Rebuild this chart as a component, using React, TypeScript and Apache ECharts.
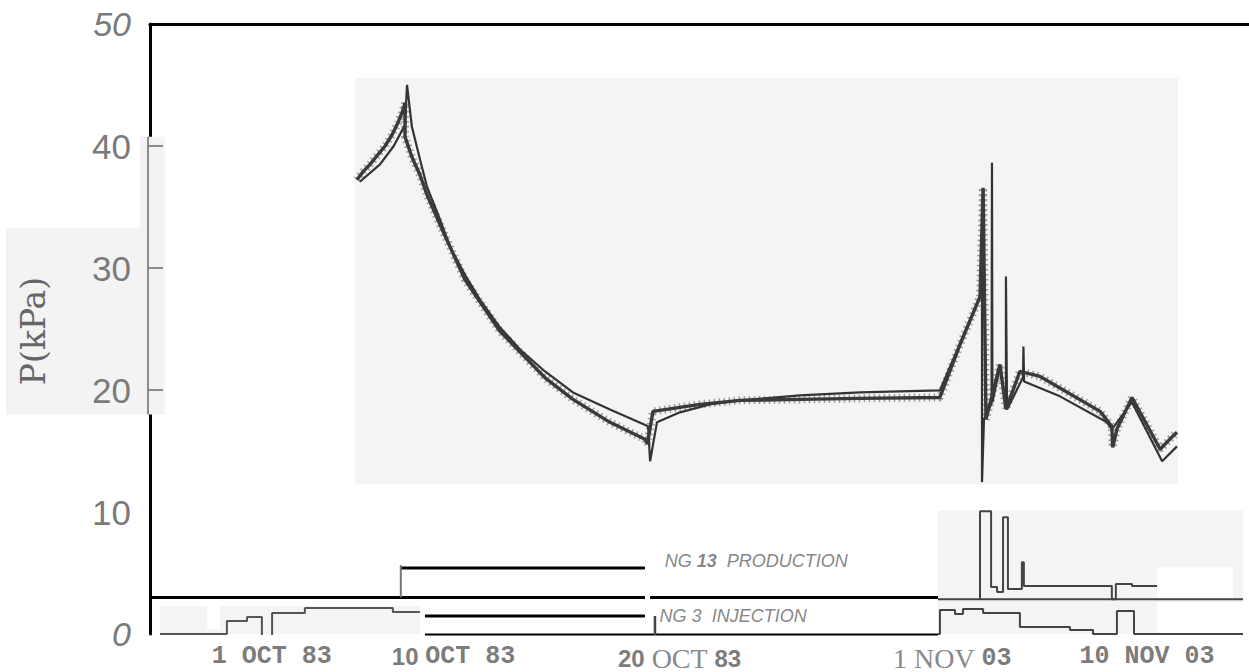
import React, { useEffect, useRef } from "react";
import * as echarts from "echarts";

// x: days since 1 Oct (as laid out on the original figure), y: pressure in kPa
const X_MIN = -5;
const X_MAX = 44.6;

const dateLabels = ["1 OCT 83", "10 OCT 83", "20 OCT 83", "1 NOV 03", "10 NOV 03"];
const dateLabelDays = [0.5, 8.7, 18.9, 31.2, 40.0];
const dateLabelRich = [
  "{m|1 OCT 83}",
  "{sb|10 }{m|OCT 83}",
  "{sb|20 }{s|OCT }{sb|83}",
  "{s|1 NOV }{m|03}",
  "{m|10 NOV 03}",
];
const yTickValues = [0, 10, 20, 30, 40, 50];

const measuredPressure: [number, number][] = [
  [4.34, 37.23], [4.62, 37.9], [4.93, 38.5], [5.29, 39.3], [5.61, 40.0], [5.92, 40.9],
  [6.19, 41.9], [6.42, 42.96], [6.51, 43.54], [6.51, 40.75], [6.82, 39.1], [7.19, 37.6],
  [7.5, 36.0], [8.09, 33.55], [9.21, 29.05], [10.8, 24.8], [12.83, 21.0], [14.09, 19.23],
  [15.76, 17.35], [17.34, 15.96], [17.45, 15.6], [17.7, 18.25], [19.82, 18.82],
  [21.63, 19.15], [24.33, 19.23], [27.04, 19.31], [30.65, 19.39], [31.56, 23.73],
  [32.46, 27.66], [32.6, 36.58], [32.73, 17.59], [33.36, 22.09], [33.63, 18.41],
  [34.26, 21.52], [35.17, 21.11], [37.88, 18.25], [38.41, 17.0], [38.45, 15.3],
  [38.64, 16.8], [39.32, 19.39], [40.59, 15.14], [41.04, 16.0], [41.35, 16.53],
];

const modelPressure: [number, number][] = [
  [4.47, 37.07], [5.38, 38.5], [6.0, 40.0], [6.51, 41.73], [6.6, 45.01], [6.82, 41.57],
  [7.19, 38.87], [7.5, 36.66], [8.09, 33.96], [8.54, 31.75], [9.21, 29.46], [9.89, 27.41],
  [10.8, 25.12], [11.7, 23.32], [12.83, 21.52], [14.09, 19.8], [15.76, 18.41],
  [17.48, 17.02], [17.57, 14.16], [17.88, 17.35], [18.92, 18.17], [20.27, 18.82],
  [21.63, 19.15], [24.33, 19.56], [27.04, 19.8], [30.65, 19.97], [32.46, 27.66],
  [32.55, 32.32], [32.55, 12.44], [32.64, 17.6], [32.98, 18.9], [33.0, 38.63],
  [33.02, 19.0], [33.36, 21.93], [33.63, 18.82], [33.63, 29.3], [33.68, 18.41],
  [34.4, 21.03], [34.42, 23.57], [34.45, 20.7], [36.07, 19.48], [38.19, 17.35],
  [38.41, 16.78], [39.32, 19.0], [40.68, 14.16], [41.35, 15.38],
];

// NG 13 production trace (offset onto the pressure axis, baseline 2.85)
const productionLate: [number, number][] = [
  [32.46, 2.85], [32.46, 10.07], [32.96, 10.07], [32.96, 3.85], [33.23, 3.85], [33.23, 3.44],
  [33.5, 3.44], [33.5, 9.57], [33.72, 9.57], [33.72, 3.68], [34.35, 3.68], [34.35, 5.89],
  [34.44, 5.89], [34.44, 3.93], [38.41, 3.93], [38.41, 2.85], [38.59, 2.85], [38.59, 4.09],
  [39.32, 4.09], [39.32, 3.93], [40.45, 3.93],
];
const productionBaseLate: [number, number][] = [[30.56, 2.85], [44.33, 2.85]];

// NG 3 injection traces (baseline 0)
const injectionEarly: [number, number][] = [
  [-4.55, 0], [-1.53, 0], [-1.53, 1.06], [-0.62, 1.06], [-0.62, 1.39], [0.05, 1.39], [0.05, -0.08],
];
const injectionEarly2: [number, number][] = [
  [0.51, -0.08], [0.51, 1.72], [1.99, 1.72], [1.99, 2.13], [5.96, 2.13], [5.96, 1.8], [7.18, 1.8],
];
const injectionLate: [number, number][] = [
  [30.56, 0], [30.65, 0], [30.65, 1.96], [31.33, 1.96], [31.33, 1.64], [31.69, 1.64],
  [31.69, 2.05], [32.6, 2.05], [32.6, 1.72], [34.26, 1.72], [34.26, 0.57], [36.52, 0.57],
  [36.52, 0.33], [37.56, 0.33], [37.56, 0], [38.64, 0], [38.64, 1.88], [39.41, 1.88],
  [39.41, 0], [44.33, 0],
];

// black reference lines of the lower panel
const productionAxis: ([number, number] | null)[] = [[-5, 3.0], [17.34, 3.0], null, [17.57, 3.0], [30.56, 3.0]];
const productionKey: [number, number][] = [[6.28, 5.4], [17.34, 5.4]];
const productionKeyTick: [number, number][] = [[6.32, 3.0], [6.32, 5.65]];
const injectionKey: [number, number][] = [[7.41, 1.47], [17.34, 1.47]];
const injectionAxis: [number, number][] = [[7.41, -0.08], [30.56, -0.08]];
const injectionKeyTick: [number, number][] = [[17.79, -0.08], [17.79, 1.47]];

const annotations = [
  { text: "{n|NG }{b|13}{n|  PRODUCTION}", at: [18.23, 5.97] },
  { text: "{n|NG 3  INJECTION}", at: [18.0, 1.47] },
];

const withBreaks = (arr: ([number, number] | null)[]) => arr.map((p) => (p === null ? [null, null] : p));

function lineSeries(data: any[], color: string, width: number, z = 3, type: any = "solid", opacity = 1) {
  return {
    type: "line",
    data,
    showSymbol: false,
    symbol: "none",
    connectNulls: false,
    silent: true,
    z,
    lineStyle: { color, width, type, opacity },
  };
}

export default function App() {
  const ref = useRef<HTMLDivElement>(null);
  useEffect(() => {
    if (!ref.current) return;
    const chart = echarts.init(ref.current, undefined, { renderer: "svg" });
    const grey = "#f4f4f4";
    const option: any = {
      animation: false,
      backgroundColor: "#ffffff",
      grid: { left: 150, right: 0, top: 24, bottom: 37, containLabel: false },
      xAxis: [
        {
          type: "value",
          min: X_MIN,
          max: X_MAX,
          position: "bottom",
          axisLine: { show: false },
          axisTick: { show: false },
          splitLine: { show: false },
          axisLabel: {
            customValues: dateLabelDays,
            margin: 10,
            formatter: (v: number) => {
              const i = dateLabelDays.findIndex((d) => Math.abs(d - v) < 1e-6);
              return i >= 0 ? dateLabelRich[i] : "";
            },
            rich: {
              m: { fontFamily: "Liberation Mono", fontWeight: "bold", fontSize: 25, color: "#7c7c7c" },
              sb: { fontFamily: "Liberation Sans", fontWeight: "bold", fontSize: 24, color: "#7c7c7c" },
              s: { fontFamily: "Liberation Serif", fontSize: 28, color: "#8a8a8a" },
            },
          },
        },
        {
          type: "value",
          min: X_MIN,
          max: X_MAX,
          position: "top",
          axisLine: { show: true, onZero: false, lineStyle: { color: "#000", width: 3 } },
          axisTick: { show: false },
          axisLabel: { show: false },
          splitLine: { show: false },
        },
      ],
      yAxis: {
        type: "value",
        min: 0,
        max: 50,
        interval: 10,
        axisLine: { show: true, onZero: false, lineStyle: { color: "#000", width: 3 } },
        axisTick: { show: false },
        splitLine: { show: false },
        axisLabel: {
          margin: 19,
          formatter: (v: number) => (v === 0 || v === 50 ? `{i|${v}}` : `{n|${v}}`),
          rich: {
            i: { fontFamily: "Liberation Sans", fontStyle: "italic", fontSize: 34, color: "#7a7a7a" },
            n: { fontFamily: "Liberation Sans", fontSize: 35, color: "#7a7a7a" },
          },
        },
      },
      series: [
        {
          type: "line",
          data: [],
          z: 1,
          silent: true,
          markArea: {
            silent: true,
            data: [
              [{ coord: [4.25, 45.58], itemStyle: { color: grey } }, { coord: [41.4, 12.27] }],
              [{ coord: [-4.55, 2.29], itemStyle: { color: grey } }, { coord: [7.18, -0.16] }],
              [{ coord: [-2.43, 2.29], itemStyle: { color: "#ffffff" } }, { coord: [-1.84, 0.4] }],
              [{ coord: [30.56, 10.15], itemStyle: { color: grey } }, { coord: [44.33, -0.16] }],
              [{ coord: [40.45, 5.48], itemStyle: { color: "#ffffff" } }, { coord: [43.88, 3.0] }],
              [{ coord: [40.45, 2.6], itemStyle: { color: "#ffffff" } }, { coord: [44.33, 0.08] }],
            ],
          },
        },
        lineSeries(modelPressure, "#333333", 2.2),
        lineSeries(measuredPressure, "#3a3a3a", 3.4),
        lineSeries(measuredPressure, "#555555", 8, 2, [1.5, 3.5], 0.55),
        lineSeries(withBreaks(productionAxis), "#000000", 3),
        lineSeries(productionKey, "#000000", 3),
        lineSeries(injectionKey, "#000000", 3),
        lineSeries(injectionAxis, "#000000", 3),
        lineSeries(productionKeyTick, "#777777", 2),
        lineSeries(injectionKeyTick, "#444444", 2.5),
        lineSeries(productionBaseLate, "#444444", 2),
        lineSeries(productionLate, "#444444", 2),
        lineSeries(injectionEarly, "#555555", 2),
        lineSeries(injectionEarly2, "#555555", 2),
        lineSeries(injectionLate, "#444444", 2),
        {
          type: "scatter",
          silent: true,
          symbolSize: 0,
          z: 4,
          data: annotations.map((a) => ({ value: a.at, label: { formatter: a.text } })),
          label: {
            show: true,
            position: "right",
            distance: 0,
            rich: {
              n: { fontFamily: "Liberation Sans", fontStyle: "italic", fontSize: 18, color: "#666666" },
              b: { fontFamily: "Liberation Sans", fontStyle: "italic", fontWeight: "bold", fontSize: 18, color: "#666666" },
            },
          },
        },
      ],
    };
    chart.setOption(option);

    const toY = (v: number) => (chart.convertToPixel({ gridIndex: 0 }, [0, v]) as number[])[1];
    const stripTop = toY(40.75);
    const stripBottom = toY(18.0);
    const labelTop = toY(33.3);
    const tickEls = [40, 30, 20].map((v) => ({
      type: "line",
      z: 101,
      shape: { x1: 148, y1: toY(v), x2: 163, y2: toY(v) },
      style: { stroke: "#6a6a6a", lineWidth: 1.5 },
    }));
    chart.setOption({
      graphic: [
        {
          type: "rect",
          z: -10,
          shape: { x: 6, y: labelTop, width: 134, height: stripBottom - labelTop },
          style: { fill: "#f3f3f3" },
        },
        {
          type: "rect",
          z: 100,
          shape: { x: 140, y: stripTop, width: 25, height: stripBottom - stripTop },
          style: { fill: "#f3f3f3" },
        },
        {
          type: "line",
          z: 101,
          shape: { x1: 148, y1: stripTop, x2: 148, y2: stripBottom },
          style: { stroke: "#6a6a6a", lineWidth: 1.5 },
        },
        ...tickEls,
        {
          type: "text",
          z: 102,
          x: 33,
          y: 331,
          rotation: Math.PI / 2,
          style: {
            text: "P(kPa)",
            font: "33px 'DejaVu Serif'",
            fill: "#666666",
            align: "center",
            verticalAlign: "middle",
          },
        },
      ],
    });
    return () => chart.dispose();
  }, []);
  return <div ref={ref} style={{ position: "fixed", left: 0, top: 0, width: 1249, height: 672 }} />;
}
